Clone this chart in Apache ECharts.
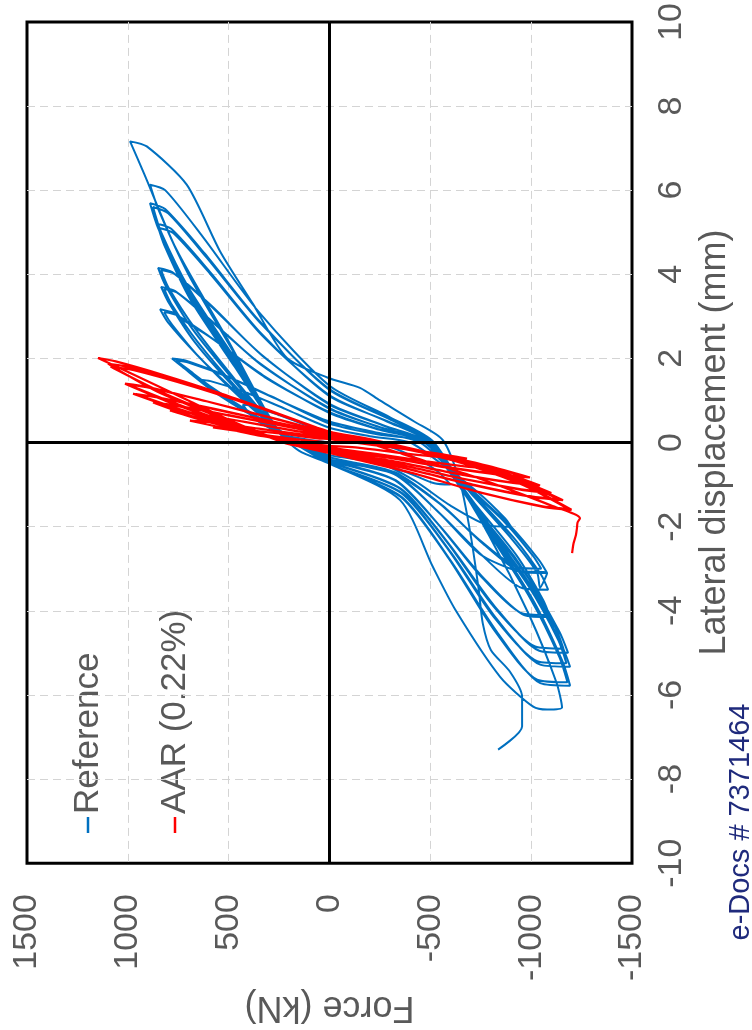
<!DOCTYPE html>
<html>
<head>
<meta charset="utf-8">
<title>Force vs lateral displacement</title>
<script src="https://cdn.jsdelivr.net/npm/echarts@6/dist/echarts.min.js"></script>
<style>
    html, body { margin: 0; padding: 0; background: #fff; }
    #chart { width: 752px; height: 1030px; }
</style>
</head>
<body>
<div id="chart"></div>
<script>
// tick values (force kN on the bottom, displacement mm on the right)
var forceTicks = [-1500, -1000, -500, 0, 500, 1000, 1500];
var dispTicks = [-10, -8, -6, -4, -2, 0, 2, 4, 6, 8, 10];
var seriesNames = ['Reference', 'AAR (0.22%)'];

// Reference specimen, [displacement mm, force kN] in test order
var refPath = [
    [0,0],[0.15,200],[0.4,320],[0.65,390],[0.9,430],
    [0.87,380],[0.65,250],[0.4,110],[0.2,0],
    [0.05,-150],[-0.1,-300],[-0.4,-440],[-0.7,-540],[-1.0,-600],
    [-0.97,-520],[-0.7,-380],[-0.45,-220],[-0.2,0],

    [0,140],[0.3,260],[0.6,370],[1.0,500],[1.35,600],[1.5,650],
    [1.46,590],[1.2,420],[0.8,220],[0.35,0],
    [0.15,-200],[0,-400],[-0.6,-580],[-1.2,-740],[-1.8,-870],[-2.0,-900],
    [-1.97,-790],[-1.5,-600],[-0.9,-420],[-0.5,-250],[-0.3,0],

    [0,170],[0.3,260],[0.8,440],[1.3,600],[1.8,730],[2.0,781],
    [1.95,715],[1.6,520],[1.1,290],[0.45,0],
    [0.2,-230],[0,-470],[-1.1,-700],[-2.0,-900],[-2.8,-1040],[-3.1,-1079],
    [-3.07,-950],[-2.4,-760],[-1.5,-560],[-0.7,-320],[-0.35,0],

    [0,160],[0.3,250],[0.8,420],[1.3,580],[1.75,705],[1.95,760],
    [1.9,700],[1.55,500],[1.05,270],[0.5,0],
    [0.25,-220],[0,-450],[-1.0,-670],[-1.9,-870],[-2.7,-1010],[-3.0,-1050],
    [-2.96,-930],[-2.3,-740],[-1.45,-545],[-0.7,-310],[-0.35,0],

    [0,180],[0.3,260],[1.1,450],[2.1,660],[2.85,800],[3.17,840],
    [3.08,770],[2.96,741],[2.5,590],[1.6,330],[0.7,0],
    [0.3,-250],[0,-480],[-1.2,-710],[-2.3,-920],[-3.15,-1050],[-3.5,-1084],
    [-3.46,-955],[-2.7,-760],[-1.7,-550],[-0.77,-330],[-0.4,0],

    [0,170],[0.3,250],[1.1,440],[2.0,640],[2.8,780],[3.1,820],
    [3.02,755],[2.45,575],[1.55,320],[0.72,0],
    [0.32,-240],[0,-470],[-1.2,-700],[-2.3,-905],[-3.1,-1030],[-3.45,-1044],[-3.1,-1079],
    [-3.05,-930],[-2.65,-745],[-1.65,-540],[-0.75,-320],[-0.4,0],

    [0,180],[0.3,260],[1.3,470],[2.4,670],[3.35,800],[3.7,835],
    [3.6,765],[2.9,590],[1.9,350],[0.8,0],
    [0.35,-260],[0,-485],[-1.45,-720],[-2.7,-930],[-3.75,-1060],[-4.15,-1094],
    [-4.1,-965],[-3.2,-760],[-2.0,-550],[-0.9,-330],[-0.4,0],

    [0,175],[0.3,255],[1.3,460],[2.4,655],[3.3,785],[3.65,820],
    [3.55,750],[2.85,575],[1.85,340],[0.82,0],
    [0.36,-250],[0,-475],[-1.45,-705],[-2.7,-915],[-3.7,-1045],[-4.1,-1080],
    [-4.05,-950],[-3.15,-745],[-1.95,-540],[-0.9,-325],[-0.42,0],

    [0,180],[0.3,260],[1.45,470],[2.7,680],[3.75,815],[4.15,850],
    [4.05,780],[3.3,600],[2.1,340],[0.9,0],
    [0.4,-270],[0,-490],[-1.75,-760],[-3.25,-990],[-4.5,-1140],[-5.0,-1183],
    [-4.95,-1040],[-3.9,-820],[-2.4,-590],[-1.1,-355],[-0.45,0],

    [0,175],[0.3,255],[1.45,460],[2.7,665],[3.7,800],[4.1,835],
    [4.0,765],[3.25,585],[2.05,330],[0.92,0],
    [0.42,-262],[0,-480],[-1.75,-745],[-3.2,-970],[-4.4,-1120],[-4.9,-1160],
    [-4.85,-1020],[-3.85,-805],[-2.35,-580],[-1.1,-350],[-0.46,0],

    [0,180],[0.3,260],[1.8,470],[3.4,690],[4.7,820],[5.2,855],
    [5.08,785],[4.1,600],[2.6,340],[1.1,0],
    [0.5,-290],[0,-500],[-1.85,-770],[-3.45,-1000],[-4.8,-1150],[-5.33,-1193],
    [-5.28,-1045],[-4.2,-830],[-2.6,-600],[-1.2,-360],[-0.5,0],

    [0,175],[0.3,255],[1.8,460],[3.35,675],[4.6,808],[5.1,845],
    [4.98,775],[4.0,590],[2.55,335],[1.12,0],
    [0.5,-285],[0,-495],[-1.85,-755],[-3.4,-985],[-4.7,-1135],[-5.25,-1175],
    [-5.2,-1030],[-4.15,-815],[-2.55,-590],[-1.2,-355],[-0.5,0],

    [0,180],[0.3,260],[2.0,480],[3.7,710],[5.1,850],[5.69,890],
    [5.55,815],[4.5,620],[2.9,350],[1.25,0],
    [0.55,-300],[0,-510],[-2.0,-780],[-3.75,-1010],[-5.2,-1155],[-5.78,-1193],
    [-5.72,-1045],[-4.5,-830],[-2.8,-600],[-1.3,-360],[-0.5,0],

    [0,175],[0.3,255],[2.0,470],[3.65,695],[5.0,835],[5.6,875],
    [5.45,800],[4.4,610],[2.85,345],[1.27,0],
    [0.56,-295],[0,-505],[-2.0,-770],[-3.7,-995],[-5.1,-1140],[-5.7,-1180],
    [-5.64,-1030],[-4.45,-815],[-2.75,-590],[-1.3,-355],[-0.5,0],

    [0,180],[0.3,260],[2.1,470],[4.0,700],[5.5,845],[6.13,890],
    [6.0,815],[4.9,630],[3.1,350],[1.35,0],
    [0.6,-300],[0,-519],[-2.2,-790],[-4.1,-990],[-5.7,-1125],[-6.3,-1153],[-6.35,-1079],
    [-6.28,-1010],[-5.57,-846],[-4.0,-627],[-2.96,-513],[-1.37,-350],[-0.5,0],

    [-0.2,150],[0.3,260],[2.4,500],[4.6,760],[6.4,920],[7.16,989],
    [7.04,906],[6.13,708],[4.55,543],[3.29,379],[2.01,211],[1.54,8],
    [1.3,-151],[1.0,-250],[0.5,-420],[0.05,-563],[-1.0,-650],[-2.2,-700],[-3.5,-740],[-4.3,-760],
    [-4.93,-800],[-5.45,-895],[-6.04,-955],[-6.75,-955],[-7.3,-836]
];

// AAR (0.22%) specimen, [displacement mm, force kN]
var aarPath = [
    [0,0],[0.1,200],[0.25,420],[0.36,578],
    [0.33,480],[0.22,260],[0.1,60],[0.08,0],
    [0,-120],[-0.12,-320],[-0.25,-520],[-0.38,-682],
    [-0.35,-560],[-0.25,-360],[-0.12,-140],[-0.08,0],

    [0,130],[0.15,330],[0.35,530],[0.52,692],
    [0.48,590],[0.33,350],[0.18,120],[0.12,0],
    [0.02,-150],[-0.15,-380],[-0.38,-620],[-0.62,-811],
    [-0.58,-690],[-0.45,-480],[-0.27,-230],[-0.12,0],

    [0,170],[0.25,400],[0.5,610],[0.76,791],
    [0.71,690],[0.5,430],[0.28,170],[0.16,0],
    [0.03,-170],[-0.2,-430],[-0.5,-740],[-0.83,-994],
    [-0.78,-860],[-0.6,-590],[-0.36,-290],[-0.16,0],

    [0,160],[0.25,390],[0.5,595],[0.74,770],
    [0.69,675],[0.49,420],[0.27,165],[0.15,0],
    [0.03,-165],[-0.2,-420],[-0.48,-715],[-0.8,-960],
    [-0.75,-835],[-0.58,-575],[-0.35,-280],[-0.15,0],

    [0,190],[0.3,430],[0.62,680],[0.95,875],
    [0.89,770],[0.65,500],[0.38,210],[0.2,0],
    [0.05,-180],[-0.25,-480],[-0.62,-800],[-1.02,-1044],
    [-0.96,-910],[-0.75,-640],[-0.45,-320],[-0.2,0],

    [0,185],[0.3,425],[0.61,670],[0.93,860],
    [0.87,760],[0.64,495],[0.37,205],[0.19,0],
    [0.05,-175],[-0.25,-470],[-0.6,-780],[-1.0,-1020],
    [-0.94,-890],[-0.73,-625],[-0.44,-315],[-0.2,0],

    [0,200],[0.4,480],[0.8,760],[1.16,974],
    [1.09,870],[0.8,580],[0.45,240],[0.22,0],
    [0.06,-190],[-0.3,-520],[-0.75,-860],[-1.2,-1100],
    [-1.13,-960],[-0.88,-680],[-0.52,-340],[-0.22,0],

    [0,195],[0.4,470],[0.8,750],[1.15,960],
    [1.08,860],[0.8,570],[0.45,235],[0.21,0],
    [0.06,-185],[-0.3,-510],[-0.74,-845],[-1.18,-1085],
    [-1.11,-950],[-0.87,-670],[-0.51,-335],[-0.21,0],

    [0,210],[0.45,500],[0.95,790],[1.4,1014],
    [1.32,900],[0.98,610],[0.55,260],[0.24,0],
    [0.07,-200],[-0.3,-540],[-0.85,-910],[-1.37,-1158],
    [-1.3,-1010],[-1.02,-720],[-0.6,-360],[-0.24,0],

    [0,205],[0.45,490],[0.95,775],[1.38,1000],
    [1.3,890],[0.97,600],[0.55,255],[0.23,0],
    [0.07,-195],[-0.3,-530],[-0.84,-895],[-1.35,-1140],
    [-1.28,-1000],[-1.0,-710],[-0.59,-355],[-0.23,0],

    [0,220],[0.55,520],[1.2,850],[1.87,1098],
    [1.78,980],[1.35,680],[0.75,300],[0.26,0],
    [0.08,-200],[-0.35,-570],[-1.0,-960],[-1.6,-1200],
    [-1.53,-1060],[-1.2,-760],[-0.7,-390],[-0.25,0],

    [0,215],[0.55,510],[1.2,835],[1.8,1085],
    [1.72,970],[1.32,670],[0.74,295],[0.25,0],
    [0.08,-195],[-0.35,-560],[-0.98,-945],[-1.58,-1185],
    [-1.51,-1050],[-1.19,-750],[-0.69,-385],[-0.25,0],

    [0,230],[0.5,480],[1.0,700],[1.5,920],[2.01,1148],
    [1.93,1060],[1.6,820],[1.2,560],[0.8,320],[0.35,60],[0.25,0],
    [0.1,-120],[-0.3,-380],[-0.75,-680],[-1.15,-910],[-1.5,-1100],[-1.8,-1242],
    [-1.9,-1230],[-2.04,-1227],[-2.2,-1222],[-2.4,-1210],[-2.63,-1203]
];

var labelColor = '#595959';
var fontFam = 'Arial, "Liberation Sans", sans-serif';
var gridLine = { show: true, showMinLine: false, showMaxLine: false, lineStyle: { color: '#d4d4d4', width: 1, type: [8, 5] } };

// chart is drawn turned on its side: force runs along the bottom, displacement up the right
function toXY(path) {
    return path.map(function (p) { return [p[1], p[0]]; });
}

function plainNum(v) {
    return String(v);
}

var chart = echarts.init(document.getElementById('chart'));

var option = {
    animation: false,
    backgroundColor: '#fff',
    grid: {
        left: 27, right: 120, top: 20, bottom: 166,
        show: true, borderColor: '#000', borderWidth: 3
    },
    xAxis: {
        type: 'value',
        inverse: true,
        min: forceTicks[0],
        max: forceTicks[forceTicks.length - 1],
        interval: 500,
        position: 'bottom',
        name: 'Force (kN)',
        nameLocation: 'middle',
        nameGap: 115,
        nameRotate: 180,
        nameTextStyle: { color: labelColor, fontSize: 36, fontFamily: fontFam },
        axisLine: { show: false, onZero: false },
        axisTick: { show: false },
        axisLabel: { rotate: 90, margin: 31, color: labelColor, fontSize: 34, fontFamily: fontFam, formatter: plainNum },
        splitLine: gridLine
    },
    yAxis: {
        type: 'value',
        min: dispTicks[0],
        max: dispTicks[dispTicks.length - 1],
        interval: 2,
        position: 'right',
        name: 'Lateral displacement (mm)',
        nameLocation: 'middle',
        nameGap: 64,
        nameRotate: 90,
        nameTextStyle: { color: labelColor, fontSize: 36, fontFamily: fontFam },
        axisLine: { show: false, onZero: false },
        axisTick: { show: false },
        axisLabel: { rotate: 90, margin: 23, color: labelColor, fontSize: 34, fontFamily: fontFam, formatter: plainNum },
        splitLine: gridLine
    },
    series: [
        {
            name: seriesNames[0],
            type: 'line',
            data: toXY(refPath),
            showSymbol: false,
            smooth: 0.25,
            lineStyle: { color: '#0070C0', width: 2 },
            itemStyle: { color: '#0070C0' }
        },
        {
            name: seriesNames[1],
            type: 'line',
            data: toXY(aarPath),
            showSymbol: false,
            smooth: 0.25,
            lineStyle: { color: '#FF0000', width: 2.2 },
            itemStyle: { color: '#FF0000' },
            markLine: {
                silent: true,
                symbol: 'none',
                label: { show: false },
                lineStyle: { color: '#000', width: 3, type: 'solid' },
                data: [{ xAxis: 0 }, { yAxis: 0 }]
            }
        }
    ],
    graphic: [
        { type: 'line', shape: { x1: 88, y1: 833, x2: 88, y2: 817 }, style: { stroke: '#0070C0', lineWidth: 2.5 } },
        {
            type: 'text', x: 88, y: 814, rotation: Math.PI / 2,
            style: { text: seriesNames[0], fill: labelColor, font: '35px ' + fontFam, align: 'left', verticalAlign: 'middle' }
        },
        { type: 'line', shape: { x1: 175, y1: 833, x2: 175, y2: 817 }, style: { stroke: '#FF0000', lineWidth: 2.5 } },
        {
            type: 'text', x: 175, y: 814, rotation: Math.PI / 2,
            style: { text: seriesNames[1], fill: labelColor, font: '35px ' + fontFam, align: 'left', verticalAlign: 'middle' }
        },
        {
            type: 'text', x: 741, y: 822, rotation: Math.PI / 2,
            style: { text: 'e-Docs # 7371464', fill: '#1f2a7c', font: '29px ' + fontFam, align: 'center', verticalAlign: 'middle' }
        }
    ]
};

chart.setOption(option);
</script>
</body>
</html>
